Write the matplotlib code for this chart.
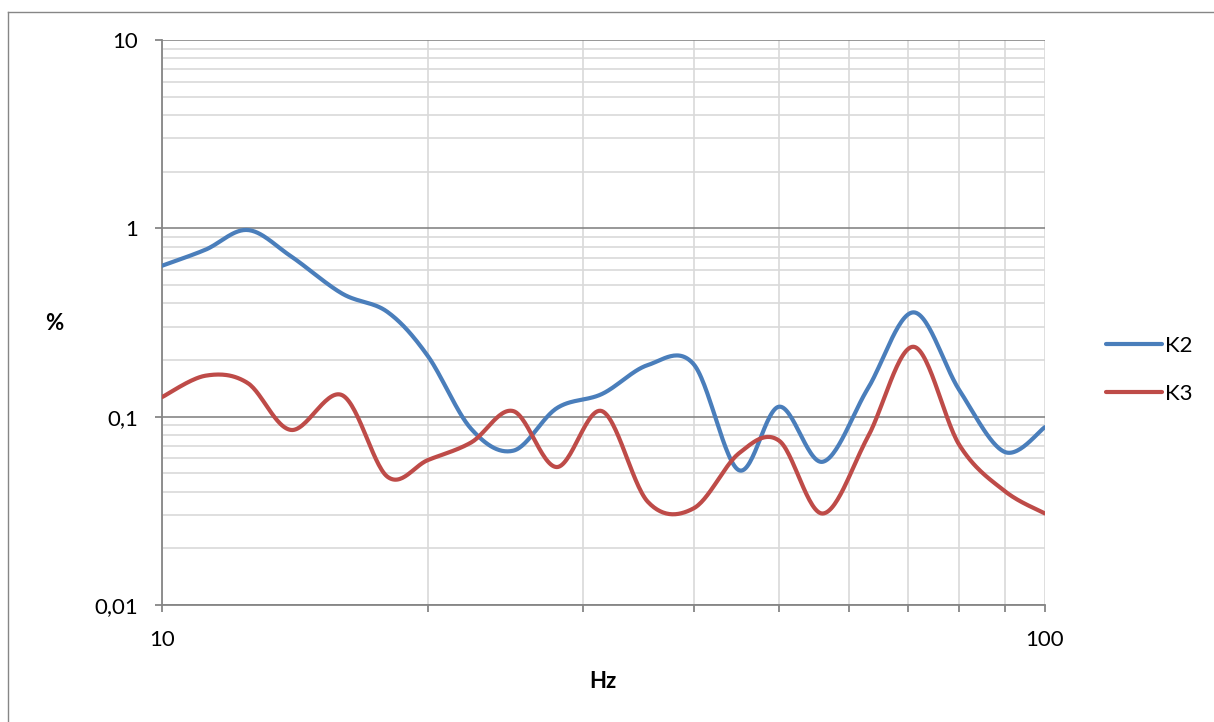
import numpy as np
import matplotlib
matplotlib.use('Agg')
import matplotlib.pyplot as plt
from matplotlib.lines import Line2D
from matplotlib.ticker import FixedLocator, FixedFormatter, NullFormatter

# ---- data (1/6-octave frequencies, values in %) ----
freq = [10, 11.2, 12.5, 14, 16, 18, 20, 22.4, 25, 28, 31.5, 35.5, 40, 45, 50,
        56, 63, 71, 80, 90, 100]
k2 = [0.633, 0.77, 0.98, 0.71, 0.45, 0.36, 0.21, 0.086, 0.066, 0.111, 0.132,
      0.188, 0.19, 0.052, 0.113, 0.0576, 0.141, 0.358, 0.138, 0.065, 0.088]
k3 = [0.127, 0.165, 0.151, 0.085, 0.13, 0.048, 0.0588, 0.073, 0.107, 0.054,
      0.107, 0.0353, 0.0326, 0.0638, 0.0745, 0.0306, 0.078, 0.235, 0.0706,
      0.0403, 0.0306]
series_names = ['K2', 'K3']
y_ticks = [0.01, 0.1, 1, 10]
y_ticklabels = ['0,01', '0,1', '1', '10']
x_ticks = [10, 100]
x_ticklabels = ['10', '100']
x_label = 'Hz'
y_label = '%'

W, H = 1214, 722
FONT = 'Lato'
FS = 16
plt.rcParams['font.family'] = [FONT, 'DejaVu Sans']

def smooth(x, y, n=30):
    """Excel-style smoothed line (Catmull-Rom Bezier) in log-log display space."""
    P = np.column_stack([np.log10(x), np.log10(y)])
    E = np.vstack([P[0], P, P[-1]])
    segs = []
    for i in range(len(P) - 1):
        p0, p1, p2, p3 = E[i], E[i + 1], E[i + 2], E[i + 3]
        c1 = p1 + (p2 - p0) / 6.0
        c2 = p2 - (p3 - p1) / 6.0
        t = np.linspace(0, 1, n, endpoint=(i == len(P) - 2))[:, None]
        B = ((1 - t) ** 3) * p1 + 3 * (1 - t) ** 2 * t * c1 + 3 * (1 - t) * t ** 2 * c2 + t ** 3 * p2
        segs.append(B)
    B = np.vstack(segs)
    return 10 ** B[:, 0], 10 ** B[:, 1]

fig = plt.figure(figsize=(W / 100, H / 100), dpi=100)
L, R, T, Bt = 162, 1045, 40, 605
ax = fig.add_axes([L / W, 1 - Bt / H, (R - L) / W, (Bt - T) / H])
ax.set_xscale('log')
ax.set_yscale('log')
ax.set_xlim(10, 100)
ax.set_ylim(0.01, 10)

grid_major = '#868686'
grid_light = '#d9d9d9'

ax.yaxis.set_major_locator(FixedLocator(y_ticks))
ax.yaxis.set_major_formatter(FixedFormatter(y_ticklabels))
ax.yaxis.set_minor_locator(FixedLocator([m * d for d in [0.01, 0.1, 1] for m in range(2, 10)]))
ax.yaxis.set_minor_formatter(NullFormatter())
ax.xaxis.set_major_locator(FixedLocator(x_ticks))
ax.xaxis.set_major_formatter(FixedFormatter(x_ticklabels))
ax.xaxis.set_minor_locator(FixedLocator([m * 10 for m in range(2, 10)]))
ax.xaxis.set_minor_formatter(NullFormatter())

ax.grid(True, which='major', axis='y', color=grid_major, lw=1.2, zorder=1)
ax.grid(True, which='minor', axis='y', color=grid_light, lw=1.2, zorder=0)
ax.grid(True, which='both', axis='x', color=grid_light, lw=1.2, zorder=0)
ax.set_axisbelow(True)

for s in ['top', 'right']:
    ax.spines[s].set_visible(False)
for s in ['left', 'bottom']:
    ax.spines[s].set_color(grid_major)
    ax.spines[s].set_linewidth(1.3)

ax.tick_params(axis='both', which='major', direction='out', length=5, width=1.3,
               color=grid_major, labelsize=FS, labelcolor='black')
ax.tick_params(axis='y', which='major', pad=12)
ax.tick_params(axis='x', which='major', pad=13)
ax.tick_params(axis='y', which='minor', length=0)
ax.tick_params(axis='x', which='minor', direction='out', length=5, width=1.3, color=grid_major)

colors = ['#4a7ebb', '#be4b48']
handles = []
for name, vals, c in zip(series_names, [k2, k3], colors):
    xs, ys = smooth(freq, vals)
    h, = ax.plot(xs, ys, color=c, lw=3.0, solid_capstyle='round', zorder=3, label=name)
    handles.append(h)

fig.legend(handles=handles, labels=series_names, loc='center left',
           bbox_to_anchor=(1095 / W, 1 - 370 / H), frameon=False, fontsize=FS,
           handlelength=2.5, handletextpad=0.15, labelspacing=1.25, borderpad=0)

fig.text(54 / W, 1 - 323 / H, y_label, ha='center', va='center', fontsize=FS,
         fontweight='bold')
fig.text(603 / W, 1 - 681 / H, x_label, ha='center', va='center', fontsize=FS,
         fontweight='bold')

# outer chart-area border (left & top visible)
fig.add_artist(Line2D([7.5 / W, 7.5 / W], [0, 1 - 11.5 / H], transform=fig.transFigure,
                      color=grid_major, lw=1.0))
fig.add_artist(Line2D([7.5 / W, 1], [1 - 11.5 / H, 1 - 11.5 / H], transform=fig.transFigure,
                      color=grid_major, lw=1.0))

fig.savefig('out.png', dpi=100)
